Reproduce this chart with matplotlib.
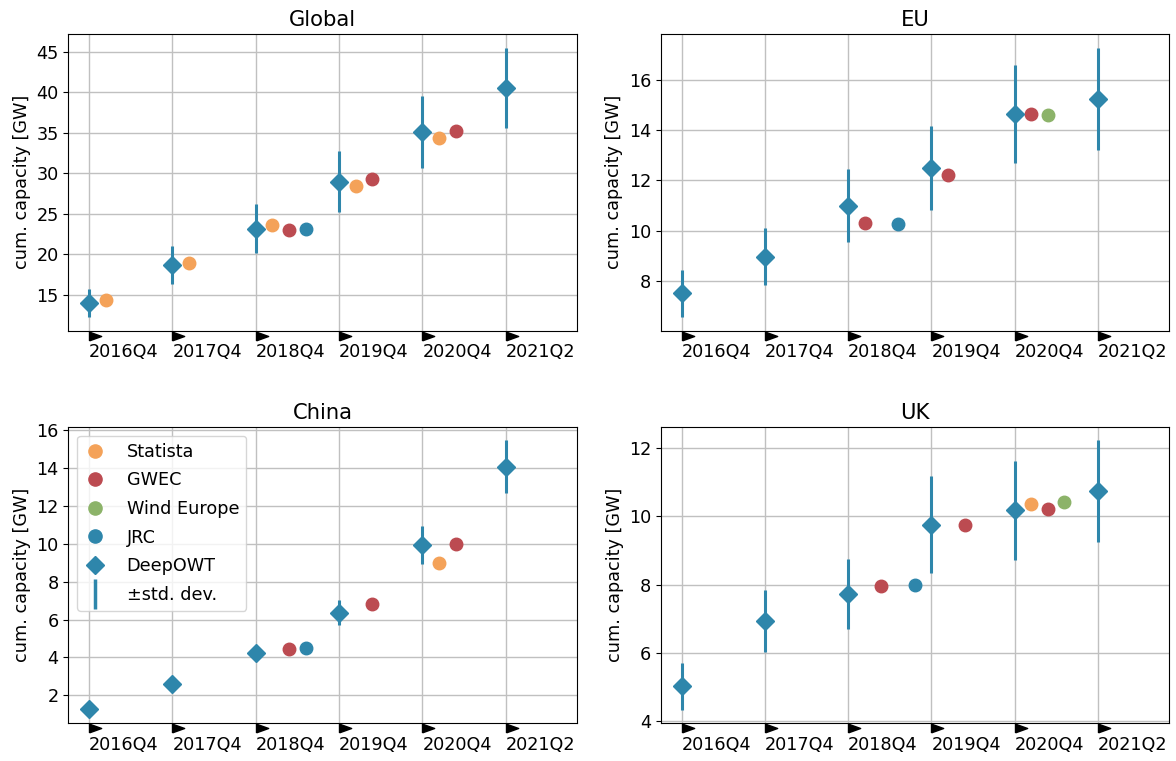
import matplotlib
matplotlib.use("Agg")
import matplotlib.pyplot as plt
import matplotlib.transforms as mtransforms
from matplotlib.lines import Line2D

plt.rcParams['font.size'] = 12.7

# Colours
BLUE = "#2e86ab"
ORANGE = "#f4a259"
RED = "#bc4b51"
GREEN = "#8cb369"

periods = ["2016Q4", "2017Q4", "2018Q4", "2019Q4", "2020Q4", "2021Q2"]

# ---- DeepOWT estimates (value, std) ----
global_deep = [14.0, 18.7, 23.2, 29.0, 35.1, 40.6]
global_std = [1.75, 2.3, 3.0, 3.8, 4.45, 4.95]
eu_deep = [7.5, 8.97, 11.0, 12.5, 14.65, 15.25]
eu_std = [0.95, 1.13, 1.47, 1.67, 1.95, 2.05]
china_deep = [1.28, 2.6, 4.23, 6.37, 9.93, 14.08]
china_std = [0.05, 0.1, 0.2, 0.65, 1.0, 1.38]
uk_deep = [5.02, 6.93, 7.73, 9.75, 10.17, 10.73]
uk_std = [0.69, 0.9, 1.03, 1.42, 1.45, 1.49]

# ---- reference statistics: period index -> value ----
global_statista = {0: 14.4, 1: 18.9, 2: 23.6, 3: 28.4, 4: 34.4}
global_gwec = {2: 23.0, 3: 29.3, 4: 35.3}
global_jrc = {2: 23.1}

eu_gwec = {2: 10.3, 3: 12.2, 4: 14.65}
eu_windeurope = {4: 14.6}
eu_jrc = {2: 10.25}

china_statista = {4: 9.0}
china_gwec = {2: 4.45, 3: 6.83, 4: 10.0}
china_jrc = {2: 4.5}

uk_statista = {4: 10.37}
uk_gwec = {2: 7.95, 3: 9.73, 4: 10.2}
uk_windeurope = {4: 10.43}
uk_jrc = {2: 8.0}

panels = [
    ("Global", global_deep, global_std,
     [("Statista", global_statista), ("GWEC", global_gwec), ("JRC", global_jrc)]),
    ("EU", eu_deep, eu_std,
     [("GWEC", eu_gwec), ("Wind Europe", eu_windeurope), ("JRC", eu_jrc)]),
    ("China", china_deep, china_std,
     [("Statista", china_statista), ("GWEC", china_gwec), ("JRC", china_jrc)]),
    ("UK", uk_deep, uk_std,
     [("Statista", uk_statista), ("GWEC", uk_gwec), ("Wind Europe", uk_windeurope), ("JRC", uk_jrc)]),
]
src_color = {"Statista": ORANGE, "GWEC": RED, "Wind Europe": GREEN, "JRC": BLUE}

# flat right-pointing triangle, anchored at its left edge
TRI = [(0, -0.36), (0, 0.36), (1, 0), (0, -0.36)]

fig = plt.figure(figsize=(11.76, 7.61), dpi=100)
rects = [
    [0.0581, 0.5654, 0.4328, 0.3899],
    [0.5621, 0.5654, 0.4322, 0.3899],
    [0.0581, 0.0495, 0.4328, 0.3894],
    [0.5621, 0.0495, 0.4322, 0.3894],
]

for rect, (title, deep, std, sources) in zip(rects, panels):
    ax = fig.add_axes(rect)
    ax.set_axisbelow(True)
    ax.grid(True, color="#c0c0c0", lw=1.0)
    x = list(range(len(periods)))
    ax.errorbar(x, deep, yerr=std, fmt="D", ms=8.7, color=BLUE, ecolor=BLUE,
                elinewidth=2.2, zorder=3)
    for k, (name, vals) in enumerate(sources):
        xs = [i + 0.2 * (k + 1) for i in vals.keys()]
        ax.plot(xs, list(vals.values()), "o", ms=9, color=src_color[name],
                linestyle="none", zorder=3)
    ax.set_xlim(-0.25, 5.86)
    ax.set_xticks(x)
    ax.set_xticklabels(periods, ha="left")
    ax.tick_params(axis="x", length=0, pad=9)

    # triangle markers under each tick
    trans = mtransforms.blended_transform_factory(ax.transData, ax.transAxes) + \
        mtransforms.ScaledTranslation(0, -5 / 100, fig.dpi_scale_trans)
    ax.plot(x, [0] * len(x), ls="none", marker=TRI, ms=17.5, color="black",
            transform=trans, clip_on=False)

    ax.set_title(title)
    ax.set_ylabel("cum. capacity [GW]")

    if title == "China":
        handles = [
            Line2D([], [], marker="o", ls="none", ms=9.5, color=ORANGE),
            Line2D([], [], marker="o", ls="none", ms=9.5, color=RED),
            Line2D([], [], marker="o", ls="none", ms=9.5, color=GREEN),
            Line2D([], [], marker="o", ls="none", ms=9.5, color=BLUE),
            Line2D([], [], marker="D", ls="none", ms=9, color=BLUE),
            Line2D([], [], marker="|", ls="none", ms=22, mew=2.5, color=BLUE),
        ]
        labels = ["Statista", "GWEC", "Wind Europe", "JRC", "DeepOWT", "\u00b1std. dev."]
        ax.legend(handles, labels, loc="upper left", labelspacing=0.6,
                  handlelength=1.2, handletextpad=1.2)

fig.savefig("out.png", dpi=100)
